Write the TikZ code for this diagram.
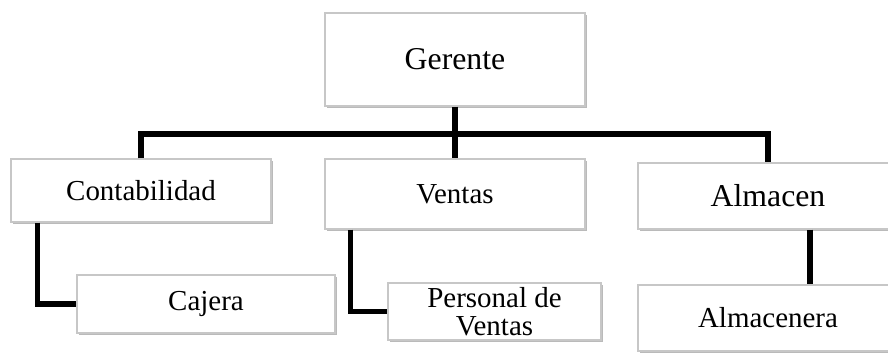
\documentclass[tikz,border=0pt]{standalone}
\usepackage{fontspec}
\setmainfont{Liberation Serif}
\usepackage{tikz}
\usetikzlibrary{shadows}
\tikzset{orgbox/.style={rectangle, draw=black!22, line width=0.8pt, fill=white, minimum width=#1, drop shadow={shadow xshift=0.04cm, shadow yshift=-0.05cm, opacity=0.45, fill=black!60}, font=\fontsize{20.6}{19.5}\selectfont, align=center, inner sep=0pt},orgbox/.default={6.5cm}}
\tikzset{link/.style={draw=black, line width=3.6pt}}

\begin{document}
\begin{tikzpicture}
      \useasboundingbox (0,0) rectangle (22.2,8.8);

      \node[orgbox, minimum height=2.325cm, font=\fontsize{22.6}{24}\selectfont] (gerente) at (11.375,7.3125) {Gerente};

      \node[orgbox, minimum height=1.575cm] (contab) at (3.525,4.0375) {Contabilidad};
      \node[orgbox, minimum height=1.75cm] (ventas) at (11.375,3.95) {Ventas};
      \node[orgbox, minimum height=1.65cm, font=\fontsize{22.6}{24}\selectfont] (almacen) at (19.2,3.9) {Almacen};

      \node[orgbox=6.45cm, minimum height=1.45cm] (cajera) at (5.15,1.2) {Cajera};
      \node[orgbox=5.325cm, minimum height=1.425cm] (personal) at (12.3625,1.0125) {Personal de\\Ventas};
      \node[orgbox, minimum height=1.65cm] (almacenera) at (19.2,0.85) {Almacenera};

      \coordinate (bar) at (11.375,5.45);
      \draw[link] (contab.north) |- (bar) -| (almacen.north);
      \draw[link] (gerente.south) -- (ventas.north);

      %\draw[link] (contab.south) -- (cajera.north);
      \draw[link] ([xshift=0.675cm]contab.south west) |- (cajera.west);
      \draw[link] ([xshift=0.65cm]ventas.south west) |- (personal.west);
      \draw[link] ([xshift=1.05cm]almacen.south) -- ([xshift=1.05cm]almacenera.north);
  \end{tikzpicture}
\end{document}
